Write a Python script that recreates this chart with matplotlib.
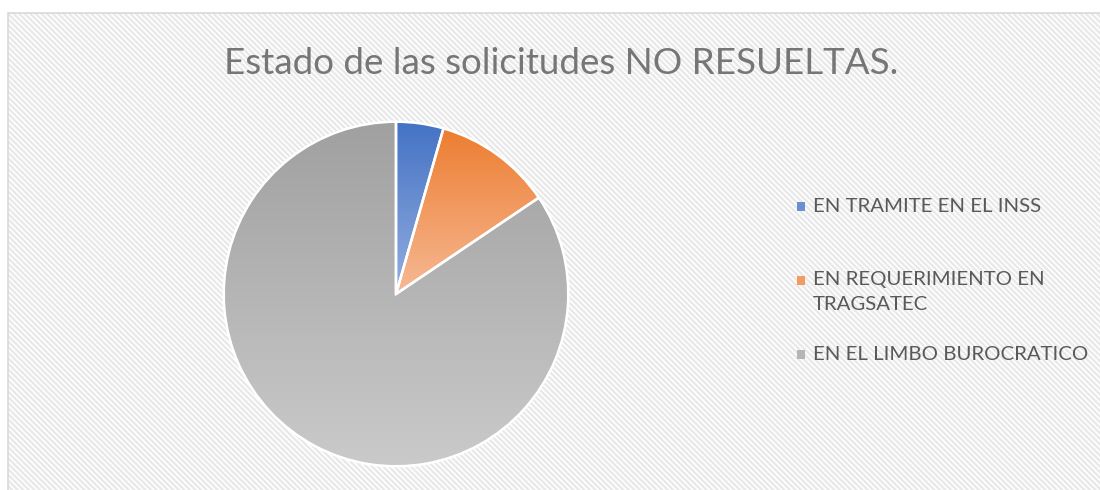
import matplotlib.pyplot as plt
import numpy as np
from matplotlib.patches import Rectangle

# data
labels = ["EN TRAMITE EN EL INSS", "EN REQUERIMIENTO EN\nTRAGSATEC", "EN EL LIMBO BUROCRATICO"]
values = [2, 5, 38]
top_colors = ["#4472C4", "#ED7D31", "#A0A0A0"]
bottom_colors = ["#93AEDF", "#F6B994", "#CACACA"]
title = "Estado de las solicitudes NO RESUELTAS."

W, H = 1100, 490
fig = plt.figure(figsize=(W / 100, H / 100), dpi=100)
fig.patch.set_facecolor("white")

# hatched chart area background + border
plt.rcParams["hatch.linewidth"] = 1.6
bg = Rectangle((8 / W, 0), 1, 1 - 13 / H, transform=fig.transFigure,
               facecolor="white", edgecolor="#e8e8e8", linewidth=0,
               hatch="\\" * 6, zorder=-3)
fig.patches.append(bg)
border = Rectangle((8 / W, -0.01), 1, 1 - 13 / H + 0.01, transform=fig.transFigure,
                   facecolor="none", edgecolor="#d9d9d9", linewidth=1.2, zorder=-2)
fig.patches.append(border)

fig.text(561 / W, 1 - 63 / H, title, ha="center", va="center",
         fontsize=26.5, color="#767676", family="Lato")

# pie
ax = fig.add_axes([222 / W, 22 / H, 348 / W, 348 / H])
ax.patch.set_visible(False)
wedges, _ = ax.pie(values, startangle=90, counterclock=False, radius=1,
                   wedgeprops=dict(edgecolor="white", linewidth=1.8))


def hex2rgb(h):
    h = h.lstrip("#")
    return np.array([int(h[i:i + 2], 16) / 255 for i in (0, 2, 4)])


for w, c0, c1 in zip(wedges, top_colors, bottom_colors):
    w.set_facecolor("none")
    w.set_zorder(3)
    bb = w.get_path().get_extents()
    t = np.linspace(0, 1, 256)[:, None, None]
    grad = hex2rgb(c0)[None, None, :] * (1 - t) + hex2rgb(c1)[None, None, :] * t
    im = ax.imshow(grad, extent=[bb.x0, bb.x1, bb.y0, bb.y1], origin="upper",
                   aspect="auto", zorder=2, interpolation="bilinear")
    im.set_clip_path(w)

ax.set_xlim(-1.01, 1.01)
ax.set_ylim(-1.01, 1.01)
ax.set_aspect("equal")
ax.axis("off")

# legend
leg_y = [207, 280, 354]
for lab, c0, c1, y in zip(labels, top_colors, bottom_colors, leg_y):
    fy = 1 - y / H
    fig.patches.append(Rectangle((797 / W, fy - 4.5 / H), 8 / W, 9 / H,
                                 transform=fig.transFigure,
                                 facecolor=(hex2rgb(c0) + hex2rgb(c1)) / 2,
                                 edgecolor="none", zorder=3))
    if "\n" in lab:
        fig.text(813 / W, fy + 9 / H, lab, ha="left", va="top",
                 fontsize=14.7, color="#595959", family="Lato", linespacing=1.6)
    else:
        fig.text(813 / W, fy, lab, ha="left", va="center",
                 fontsize=14.7, color="#595959", family="Lato")

fig.savefig("out.png", dpi=100)
